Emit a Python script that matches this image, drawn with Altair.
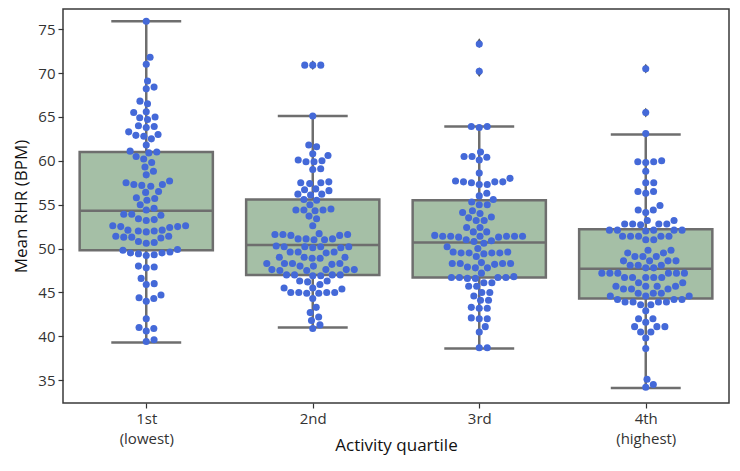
import json
import altair as alt
import numpy as np
import pandas as pd

# ---------------- data ----------------
groups = ["1st", "2nd", "3rd", "4th"]
tick_lines = [["1st", "(lowest)"], ["2nd"], ["3rd"], ["4th", "(highest)"]]

rhr_1st = [75.9, 71.8, 71.0, 69.1, 68.4, 68.2, 66.8, 66.5, 65.6, 65.5, 65.0, 64.9, 64.7,
           64.0, 63.9, 63.8, 63.3, 63.0, 62.9, 62.8, 62.5, 61.8, 61.1, 61.0, 60.9, 60.5,
           60.2, 59.8, 59.3, 58.8, 58.4, 57.7, 57.5, 57.3, 57.2, 57.1, 57.3, 56.5, 56.4,
           55.8, 55.7, 55.5, 55.0, 54.6, 54.4, 53.9, 53.9, 53.8, 53.4, 53.3, 53.2, 52.6,
           52.6, 52.5, 52.4, 52.5, 52.1, 52.0, 51.9, 52.1, 52.0, 51.4, 51.3, 51.2, 51.4,
           51.3, 50.8, 50.7, 50.6, 49.9, 49.8, 49.6, 49.5, 49.5, 49.4, 49.3, 49.2, 47.9,
           47.8, 48.0, 46.6, 46.0, 45.9, 44.7, 44.4, 44.3, 44.0, 42.0, 41.0, 40.9, 40.6,
           39.6, 39.4]
rhr_2nd = [70.9, 70.9, 70.9, 65.1, 61.8, 61.6, 60.8, 60.6, 60.1, 60.0, 59.9, 59.9, 59.1,
           59.0, 57.6, 57.5, 57.4, 57.5, 56.8, 56.7, 56.6, 56.2, 56.2, 56.1, 55.6, 55.5,
           55.0, 54.5, 54.4, 54.4, 54.3, 54.4, 53.7, 53.4, 52.6, 51.7, 51.6, 51.6, 51.5,
           51.6, 51.5, 51.1, 51.1, 51.0, 51.1, 51.0, 50.3, 50.2, 50.2, 50.1, 50.2, 50.2,
           50.1, 49.6, 49.6, 49.5, 49.6, 49.0, 49.0, 48.9, 49.0, 48.9, 48.3, 48.3, 48.2,
           48.3, 48.3, 48.0, 48.0, 47.6, 47.6, 47.5, 47.6, 47.5, 47.6, 47.0, 47.0, 46.9,
           47.0, 47.0, 46.9, 46.3, 46.3, 46.2, 45.9, 45.5, 45.5, 45.4, 45.0, 45.0, 44.9,
           45.0, 45.0, 44.9, 44.3, 43.3, 42.7, 42.2, 41.8, 41.3, 40.9]
rhr_3rd = [73.3, 70.2, 63.9, 63.9, 63.8, 61.0, 60.5, 60.5, 60.4, 60.1, 58.6, 58.0, 57.7,
           57.6, 57.6, 57.5, 57.6, 57.3, 57.3, 56.3, 56.0, 55.6, 55.3, 55.0, 55.0, 54.3,
           54.1, 54.0, 53.6, 53.5, 53.2, 53.2, 52.4, 52.4, 51.9, 51.9, 51.4, 51.4, 51.4,
           51.3, 51.4, 51.5, 51.4, 51.3, 51.4, 51.0, 50.9, 50.8, 50.6, 50.2, 50.0, 49.6,
           49.5, 49.5, 49.6, 49.5, 49.4, 49.5, 49.1, 48.3, 48.3, 48.4, 48.2, 48.3, 48.3,
           47.8, 47.8, 47.9, 47.2, 46.7, 46.7, 46.7, 46.6, 46.7, 46.8, 46.6, 46.1, 46.1,
           45.7, 45.7, 45.0, 45.0, 44.6, 44.1, 44.1, 43.2, 43.2, 43.3, 42.0, 42.0, 42.1,
           41.1, 40.5, 38.7, 38.7]
rhr_4th = [70.5, 65.5, 63.1, 59.9, 59.9, 59.8, 60.0, 58.8, 57.5, 57.5, 56.5, 56.5, 56.3,
           54.9, 54.4, 54.4, 54.1, 53.2, 53.2, 52.8, 52.8, 52.8, 52.8, 52.7, 52.1, 52.1,
           52.1, 52.1, 52.0, 52.1, 51.4, 51.4, 51.4, 51.4, 51.4, 51.0, 51.0, 49.8, 49.8,
           49.5, 49.5, 49.1, 49.1, 49.1, 48.6, 48.6, 48.6, 48.6, 48.1, 48.1, 48.1, 47.8,
           47.8, 47.2, 47.2, 47.2, 47.2, 47.2, 47.2, 46.7, 46.7, 46.7, 46.7, 46.7, 46.1,
           46.1, 45.7, 45.7, 45.7, 45.7, 45.4, 45.4, 45.4, 44.9, 44.9, 44.9, 44.6, 44.6,
           44.6, 44.2, 44.2, 44.2, 43.9, 43.9, 43.9, 43.9, 43.6, 43.6, 42.9, 42.0, 42.0,
           41.6, 41.1, 41.1, 41.1, 40.5, 40.5, 39.8, 38.6, 35.1, 34.5, 34.2]
series = [rhr_1st, rhr_2nd, rhr_3rd, rhr_4th]

q1 = [49.8, 47.0, 46.7, 44.3]
median = [54.3, 50.4, 50.7, 47.7]
q3 = [61.0, 55.6, 55.5, 52.2]
whisker_lo = [39.3, 41.0, 38.6, 34.1]
whisker_hi = [75.9, 65.1, 63.9, 63.0]
outlier_group = [1, 2, 2, 3, 3]
outlier_value = [70.9, 73.4, 70.1, 70.5, 65.5]

# ---------------- layout ----------------
W, H = 666, 394
YMIN, YMAX = 32.4, 77.3
ppu_x = W / 4.0
ppu_y = H / (YMAX - YMIN)
DOT = 8.0  # dot diameter in px, used for the swarm layout

BOX_FILL = "#a5bfa6"
GRAY = "#6e6e6e"
BLUE = "#4469d8"


def swarm_offsets(vals, d):
    vals = np.asarray(vals, dtype=float)
    order = np.argsort(vals, kind="stable")
    placed = []
    offs = np.zeros(len(vals))
    for idx in order:
        y = vals[idx] * ppu_y
        neigh = [(px, py) for px, py in placed if abs(py - y) < d]
        cands = [0.0]
        for px, py in neigh:
            dx = np.sqrt(max(d * d - (py - y) ** 2, 0.0))
            cands += [px + dx, px - dx]
        cands.sort(key=abs)
        chosen = 0.0
        for c in cands:
            if all((c - px) ** 2 + (y - py) ** 2 >= d * d - 1e-6 for px, py in neigh):
                chosen = c
                break
        offs[idx] = chosen
        placed.append((chosen, y))
    return offs


rows = []
for i, vals in enumerate(series):
    offs = swarm_offsets(vals, DOT)
    for v, o in zip(vals, offs):
        rows.append({"x": i + o / ppu_x, "v": v})
pts_df = pd.DataFrame(rows)

box_df = pd.DataFrame({
    "i": list(range(4)),
    "xlo": [i - 0.4 for i in range(4)],
    "xhi": [i + 0.4 for i in range(4)],
    "clo": [i - 0.21 for i in range(4)],
    "chi": [i + 0.21 for i in range(4)],
    "q1": q1, "med": median, "q3": q3, "wlo": whisker_lo, "whi": whisker_hi,
})
out_df = pd.DataFrame({"x": outlier_group, "v": outlier_value})

label_expr = " : ".join(
    f"datum.value == {i} ? {json.dumps(lines)}" for i, lines in enumerate(tick_lines)
) + " : ''"

xs = alt.Scale(domain=[-0.5, 3.5], nice=False, zero=False)
ys = alt.Scale(domain=[YMIN, YMAX], nice=False, zero=False)

x_axis = alt.Axis(values=[0, 1, 2, 3], labelExpr=label_expr, title="Activity quartile",
                  grid=False, domain=False, tickSize=5, tickColor="#333333", tickWidth=1.2,
                  labelFontSize=15, labelColor="#333333", labelLineHeight=20, labelPadding=3,
                  titleFontSize=17, titleFontWeight="normal", titleColor="#111111",
                  titleY=47, titleBaseline="alphabetic")
y_axis = alt.Axis(values=[35, 40, 45, 50, 55, 60, 65, 70, 75], title="Mean RHR (BPM)",
                  grid=False, domain=False, tickSize=5, tickColor="#333333", tickWidth=1.2,
                  labelFontSize=15, labelColor="#333333", labelPadding=3,
                  titleFontSize=17, titleFontWeight="normal", titleColor="#111111",
                  titlePadding=7)


def X(f):
    return alt.X(f"{f}:Q", scale=xs, axis=x_axis)


def Y(f):
    return alt.Y(f"{f}:Q", scale=ys, axis=y_axis)


base_box = alt.Chart(box_df)
whiskers = base_box.mark_rule(color=GRAY, strokeWidth=2.5).encode(x=X("i"), y=Y("wlo"), y2="whi")
cap_lo = base_box.mark_rule(color=GRAY, strokeWidth=2.5).encode(x=X("clo"), x2="chi", y=Y("wlo"))
cap_hi = base_box.mark_rule(color=GRAY, strokeWidth=2.5).encode(x=X("clo"), x2="chi", y=Y("whi"))
boxes = base_box.mark_rect(fill=BOX_FILL, stroke=GRAY, strokeWidth=2.5).encode(
    x=X("xlo"), x2="xhi", y=Y("q1"), y2="q3")
medians = base_box.mark_rule(color=GRAY, strokeWidth=2.5).encode(x=X("xlo"), x2="xhi", y=Y("med"))

outliers = alt.Chart(out_df).mark_point(
    shape="M0,-1L0.65,0L0,1L-0.65,0Z", filled=True, color="#555555", size=95, opacity=1
).encode(x=X("x"), y=Y("v"))

points = alt.Chart(pts_df).mark_circle(color=BLUE, size=50, opacity=1).encode(x=X("x"), y=Y("v"))

chart = alt.layer(whiskers, cap_lo, cap_hi, boxes, medians, outliers, points).properties(
    width=W, height=H,
    autosize=alt.AutoSizeParams(type="none"),
    padding={"left": 55, "top": 1, "right": 1, "bottom": 56},
).configure_view(stroke="#3a3a3a", strokeWidth=1.5).configure_axis(
    labelFont="Open Sans", titleFont="Open Sans"
)

chart.save("out.html", embed_options={"renderer": "svg", "actions": False})
